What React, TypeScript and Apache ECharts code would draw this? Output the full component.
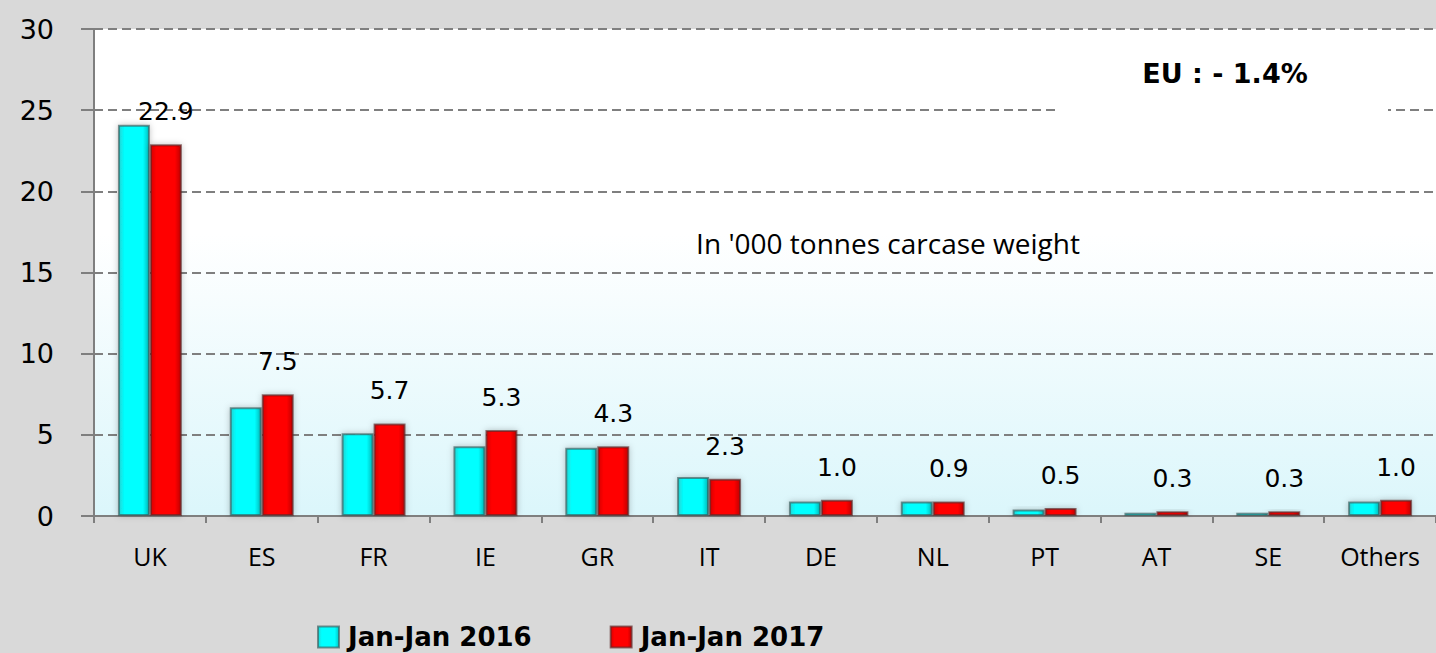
import React, { useEffect, useRef } from "react";
import * as echarts from "echarts";

const categories = ["UK", "ES", "FR", "IE", "GR", "IT", "DE", "NL", "PT", "AT", "SE", "Others"];
const jan2016 = [24.1, 6.7, 5.1, 4.3, 4.2, 2.4, 0.9, 0.9, 0.4, 0.2, 0.2, 0.9];
const jan2017 = [22.9, 7.5, 5.7, 5.3, 4.3, 2.3, 1.0, 0.9, 0.5, 0.3, 0.3, 1.0];
const labels2017 = ["22.9", "7.5", "5.7", "5.3", "4.3", "2.3", "1.0", "0.9", "0.5", "0.3", "0.3", "1.0"];
const seriesNames = ["Jan-Jan 2016", "Jan-Jan 2017"];
const yTicks = { min: 0, max: 30, interval: 5 };
const noteText = "In '000 tonnes carcase weight";
const euText = "EU : - 1.4%";

export default function App() {
  const ref = useRef<HTMLDivElement>(null);
  useEffect(() => {
    if (!ref.current) return;
    const chart = echarts.init(ref.current, null, { renderer: "svg" });
    const cyan = new echarts.graphic.LinearGradient(0, 0, 1, 0, [
      { offset: 0, color: "#22d4d4" },
      { offset: 0.18, color: "#00ffff" },
      { offset: 0.8, color: "#00ffff" },
      { offset: 1, color: "#00c4c4" },
    ]);
    const red = new echarts.graphic.LinearGradient(0, 0, 1, 0, [
      { offset: 0, color: "#d80000" },
      { offset: 0.18, color: "#ff0000" },
      { offset: 0.8, color: "#ff0000" },
      { offset: 1, color: "#c00000" },
    ]);
    const gray = "#7f7f7f";
    chart.setOption({
      animation: false,
      backgroundColor: "#d9d9d9",
      grid: {
        left: 94,
        right: -4,
        top: 29,
        bottom: 137,
        show: true,
        borderWidth: 0,
        backgroundColor: new echarts.graphic.LinearGradient(0, 0, 0, 1, [
          { offset: 0, color: "#ffffff" },
          { offset: 0.42, color: "#ffffff" },
          { offset: 1, color: "#dbf6fb" },
        ]),
      },
      legend: {
        left: 317,
        top: 623,
        padding: 0,
        itemWidth: 21,
        itemHeight: 21,
        itemGap: 78,
        icon: "rect",
        textStyle: {
          fontFamily: "DejaVu Sans",
          fontWeight: "bold",
          fontSize: 26,
          lineHeight: 28,
          color: "#000",
          padding: [0, 0, 0, 4],
        },
        data: seriesNames,
      },
      xAxis: {
        type: "category",
        data: categories,
        axisLine: { lineStyle: { color: gray, width: 2 } },
        axisTick: { show: true, length: 7, lineStyle: { color: gray, width: 2 } },
        axisLabel: { fontFamily: "Open Sans", fontSize: 25, color: "#000", margin: 27 },
      },
      yAxis: {
        type: "value",
        min: yTicks.min,
        max: yTicks.max,
        interval: yTicks.interval,
        axisLine: { show: true, lineStyle: { color: gray, width: 2 } },
        axisTick: { show: true, length: 13, lineStyle: { color: gray, width: 2 } },
        axisLabel: { fontFamily: "DejaVu Sans", fontSize: 27, color: "#000", margin: 40 },
        splitLine: { lineStyle: { color: gray, width: 2, type: [9, 5] } },
      },
      graphic: [
        {
          type: "rect",
          z: 1,
          shape: { x: 1055, y: 42, width: 333, height: 71 },
          style: { fill: "#ffffff" },
        },
        {
          type: "text",
          z: 3,
          x: 1225,
          y: 73,
          style: {
            text: euText,
            fontFamily: "DejaVu Sans",
            fontWeight: "bold",
            fontSize: 27,
            fill: "#000",
            align: "center",
            verticalAlign: "middle",
          },
        },
        {
          type: "text",
          z: 3,
          x: 888,
          y: 243,
          style: {
            text: noteText,
            fontFamily: "Open Sans",
            fontSize: 28,
            fill: "#000",
            align: "center",
            verticalAlign: "middle",
          },
        },
      ],
      series: [
        {
          name: seriesNames[0],
          type: "bar",
          data: jan2016,
          barWidth: 32,
          barGap: "0%",
          itemStyle: {
            color: cyan,
            borderColor: "rgba(60,90,90,0.65)",
            borderWidth: 2,
            shadowBlur: 6,
            shadowColor: "rgba(0,0,0,0.25)",
          },
        },
        {
          name: seriesNames[1],
          type: "bar",
          data: jan2017,
          barWidth: 32,
          barGap: "0%",
          itemStyle: {
            color: red,
            borderColor: "rgba(90,40,40,0.65)",
            borderWidth: 2,
            shadowBlur: 6,
            shadowColor: "rgba(0,0,0,0.25)",
          },
          label: {
            show: true,
            position: "top",
            distance: 20,
            fontFamily: "DejaVu Sans",
            fontSize: 25,
            color: "#000",
            formatter: (p: any) => labels2017[p.dataIndex],
          },
        },
      ],
    });
    return () => chart.dispose();
  }, []);
  return (
    <div
      ref={ref}
      style={{ position: "fixed", left: 0, top: 0, width: 1436, height: 653 }}
    />
  );
}
